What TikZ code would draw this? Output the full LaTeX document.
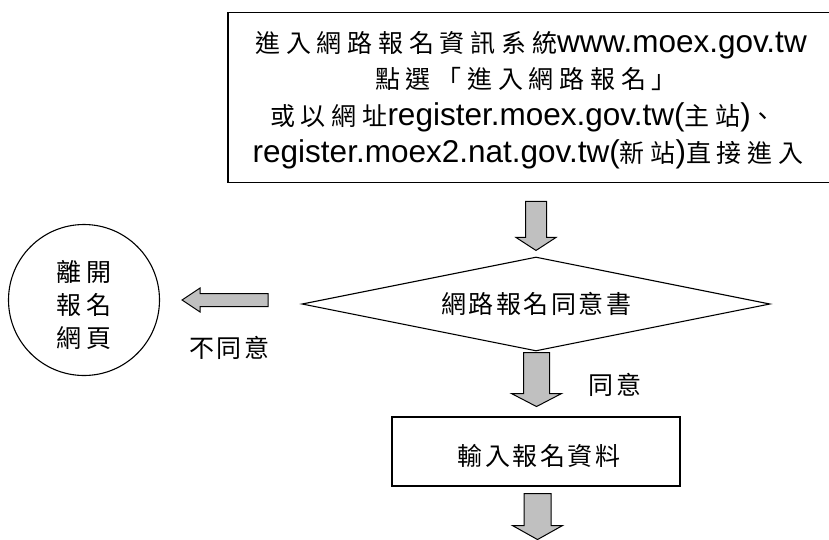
\documentclass[tikz,border=0pt]{standalone}
\usepackage{fontspec}
\setmainfont{Liberation Sans}
\newfontfamily\cjkfont[LetterSpace=10]{Noto Sans CJK TC}
\newfontfamily\cjkwide[LetterSpace=23]{Noto Sans CJK TC}
\newfontfamily\cjkmid[LetterSpace=19]{Noto Sans CJK TC}
\newcommand\zh[1]{{\cjkfont\fontsize{25}{35}\selectfont #1}}
\newcommand\zw[1]{{\cjkwide\fontsize{25}{35}\selectfont #1}}
\newcommand\zm[1]{{\cjkmid\fontsize{25}{33}\selectfont #1}}
\usetikzlibrary{shapes.geometric,calc}
\definecolor{arrowgray}{HTML}{C0C0C0}
\tikzset{
  shape line/.style={draw=black, line width=1.1pt},
  barrow/.style={draw=black, fill=arrowgray, line width=1pt, line join=miter},
  lbl/.style={font=\fontsize{31.5}{35}\selectfont, inner sep=0pt},
  topline/.style={lbl, anchor=base},
  pics/downarr/.style n args={4}{code={
    \draw[barrow] (-#3,0) -- (#3,0) -- (#3,#1-#2) -- (#4,#1-#2) -- (0,#1)
      -- (-#4,#1-#2) -- (-#3,#1-#2) -- cycle;}},
  pics/leftarr/.style n args={4}{code={
    \draw[barrow] (0,0) -- (#2,-#4) -- (#2,-#3) -- (#1,-#3) -- (#1,#3)
      -- (#2,#3) -- (#2,#4) -- cycle;}},
}
\begin{document}
\begin{tikzpicture}[x=1pt,y=-1pt]
\useasboundingbox (0,0) rectangle (829,539);
% top box
\node[shape line, line width=1.5pt, rectangle, minimum width=604pt, minimum height=170pt,
  inner sep=0pt] (top) at (530,97.5) {};
\node[topline] (t1) at (531,52) {\zw{進入網路報名資訊系統}www.moex.gov.tw};
\node[topline] (t2) at (526,88.5) {\zw{點選「進入網路報名」}};
\node[topline] (t3) at (523,125) {\zw{或以網址}register.moex.gov.tw(\zw{主站})\zw{、}};
\node[topline] (t4) at (528,162) {register.moex2.nat.gov.tw(\zw{新站})\zw{直接進入}};
% diamond
\node[shape line, diamond, aspect=4.98, minimum width=468pt, minimum height=94pt,
  inner sep=0pt, lbl] (agree) at (536,304) {\zh{網路報名同意書}};
% input box
\node[shape line, rectangle, minimum width=288pt, minimum height=69pt,
  inner sep=0pt, lbl] (input) at (536,451.5) {};
\node[lbl] (inputtxt) at (539,456) {\zh{輸入報名資料}};
% leave circle
\node[shape line, circle, minimum size=151pt, inner sep=0pt] (leave) at (84,300) {};
\node[lbl, align=center] (leavetxt) at (84,305)
  {\zm{離開}\\[-2pt]\zm{報名}\\[-2pt]\zm{網頁}};
% labels
\node[lbl] (disagree) at (229,348) {\zh{不同意}};
\node[lbl] (agreelbl) at (615,385) {\zh{同意}};
% block arrows
\pic at ($(agree.north)+(0,-55)$) {downarr={49}{13}{10.5}{20}};
\pic at ($(agree.south)+(0.5,1)$) {downarr={54}{13}{13}{25}};
\pic at ($(input.south)+(1.5,7)$) {downarr={46}{14}{13.5}{25}};
\pic at ($(leave.east)+(22,0)$) {leftarr={86}{18}{6.5}{12}};
\end{tikzpicture}
\end{document}
